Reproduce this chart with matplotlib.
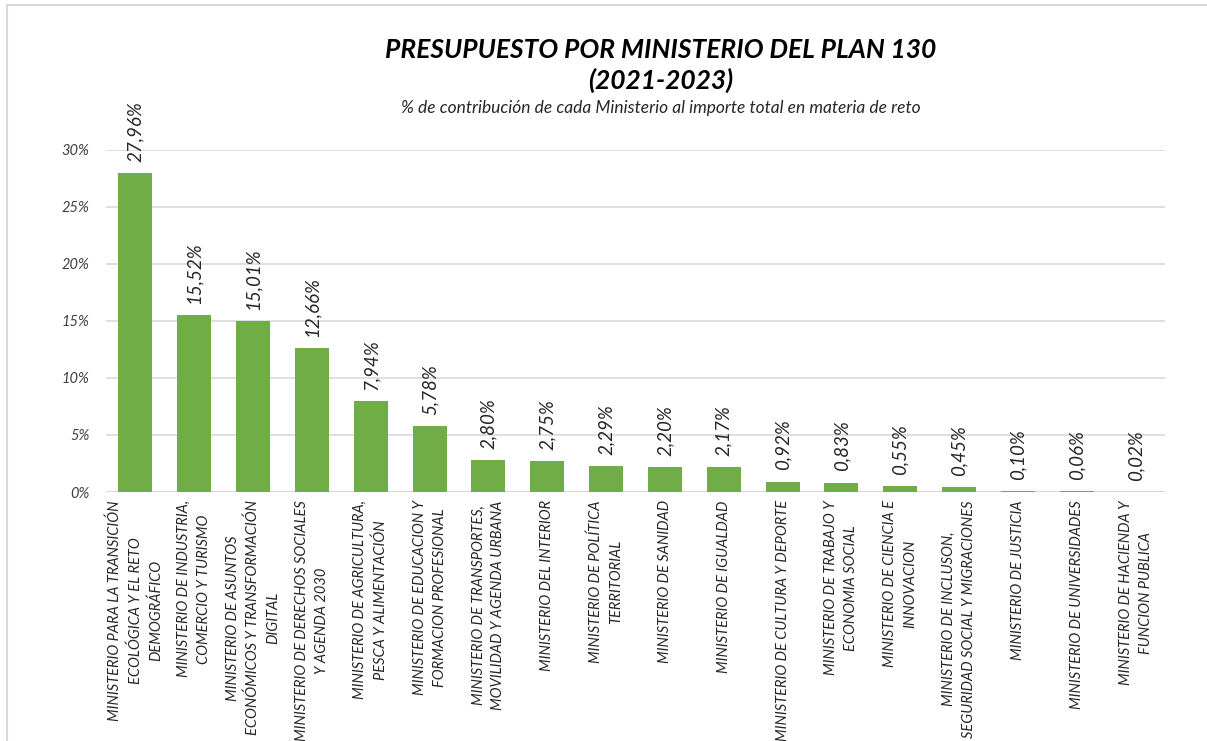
import matplotlib.pyplot as plt
from matplotlib.lines import Line2D

# ----> Data <----
ministerios = [
    "MINISTERIO PARA LA TRANSICIÓN\nECOLÓGICA Y EL RETO\nDEMOGRÁFICO",
    "MINISTERIO DE INDUSTRIA,\nCOMERCIO Y TURISMO",
    "MINISTERIO DE ASUNTOS\nECONÓMICOS Y TRANSFORMACIÓN\nDIGITAL",
    "MINISTERIO DE DERECHOS SOCIALES\nY AGENDA 2030",
    "MINISTERIO DE AGRICULTURA,\nPESCA Y ALIMENTACIÓN",
    "MINISTERIO DE EDUCACION Y\nFORMACION PROFESIONAL",
    "MINISTERIO DE TRANSPORTES,\nMOVILIDAD Y AGENDA URBANA",
    "MINISTERIO DEL INTERIOR",
    "MINISTERIO DE POLÍTICA\nTERRITORIAL",
    "MINISTERIO DE SANIDAD",
    "MINISTERIO DE IGUALDAD",
    "MINISTERIO DE CULTURA Y DEPORTE",
    "MINISTERIO DE TRABAJO Y\nECONOMIA SOCIAL",
    "MINISTERIO DE CIENCIA E\nINNOVACION",
    "MINISTERIO DE INCLUSON,\nSEGURIDAD SOCIAL Y MIGRACIONES",
    "MINISTERIO DE JUSTICIA",
    "MINISTERIO DE UNIVERSIDADES",
    "MINISTERIO DE HACIENDA Y\nFUNCION PUBLICA",
]
porcentajes = [27.96, 15.52, 15.01, 12.66, 7.94, 5.78, 2.80, 2.75, 2.29,
               2.20, 2.17, 0.92, 0.83, 0.55, 0.45, 0.10, 0.06, 0.02]
y_ticks = [0, 5, 10, 15, 20, 25, 30]

titulo_1 = "PRESUPUESTO POR MINISTERIO DEL PLAN 130"
titulo_2 = "(2021-2023)"
subtitulo = "% de contribución de cada Ministerio al importe total en materia de reto"

# ----> Chart <----
plt.rcParams['font.family'] = ['Lato', 'DejaVu Sans']
verde = '#70AD47'
gris = '#D9D9D9'

fig = plt.figure(figsize=(12.07, 7.41), dpi=100)
ax = fig.add_axes([106 / 1207, 249 / 741, 1059 / 1207, 342 / 741])

x = range(len(porcentajes))
bars = ax.bar(x, porcentajes, width=0.58, color=verde, zorder=3)

for b, v in zip(bars, porcentajes):
    ax.annotate(f"{v:.2f}%".replace('.', ','),
                (b.get_x() + b.get_width() / 2, v),
                xytext=(0, 8), textcoords='offset points',
                rotation=90, ha='center', va='bottom',
                fontsize=13.5, style='italic', color='#262626',
                annotation_clip=False)

ax.set_xlim(-0.5, len(porcentajes) - 0.5)
ax.set_ylim(0, 30)
ax.set_yticks(y_ticks)
ax.set_yticklabels([f"{t}%" for t in y_ticks], fontsize=10.5, style='italic', color='#404040')
ax.set_xticks(list(x))
ax.set_xticklabels(ministerios, rotation=90, ha='center', va='top',
                   multialignment='center', linespacing=1.55,
                   fontsize=10.5, style='italic', color='#262626')
ax.tick_params(axis='both', length=0)
ax.tick_params(axis='y', pad=12)
ax.tick_params(axis='x', pad=6)
ax.grid(axis='y', color=gris, linewidth=1.2, zorder=0)
for s in ax.spines.values():
    s.set_visible(False)
ax.axhline(0, color=gris, linewidth=1.5, zorder=2)

xc = 661 / 1207
fig.text(xc, 1 - 50 / 741, titulo_1, ha='center', va='center', fontsize=19,
         fontweight='bold', style='italic')
fig.text(xc, 1 - 80 / 741, titulo_2, ha='center', va='center', fontsize=19,
         fontweight='bold', style='italic')
fig.text(xc, 1 - 108 / 741, subtitulo, ha='center', va='center', fontsize=12.5,
         style='italic', color='#262626')

# chart border
fig.add_artist(Line2D([7 / 1207, 7 / 1207], [0, 1 - 5 / 741], transform=fig.transFigure,
                      color=gris, linewidth=1.5))
fig.add_artist(Line2D([7 / 1207, 1], [1 - 5 / 741, 1 - 5 / 741], transform=fig.transFigure,
                      color=gris, linewidth=1.5))

fig.savefig('out.png', dpi=100)
